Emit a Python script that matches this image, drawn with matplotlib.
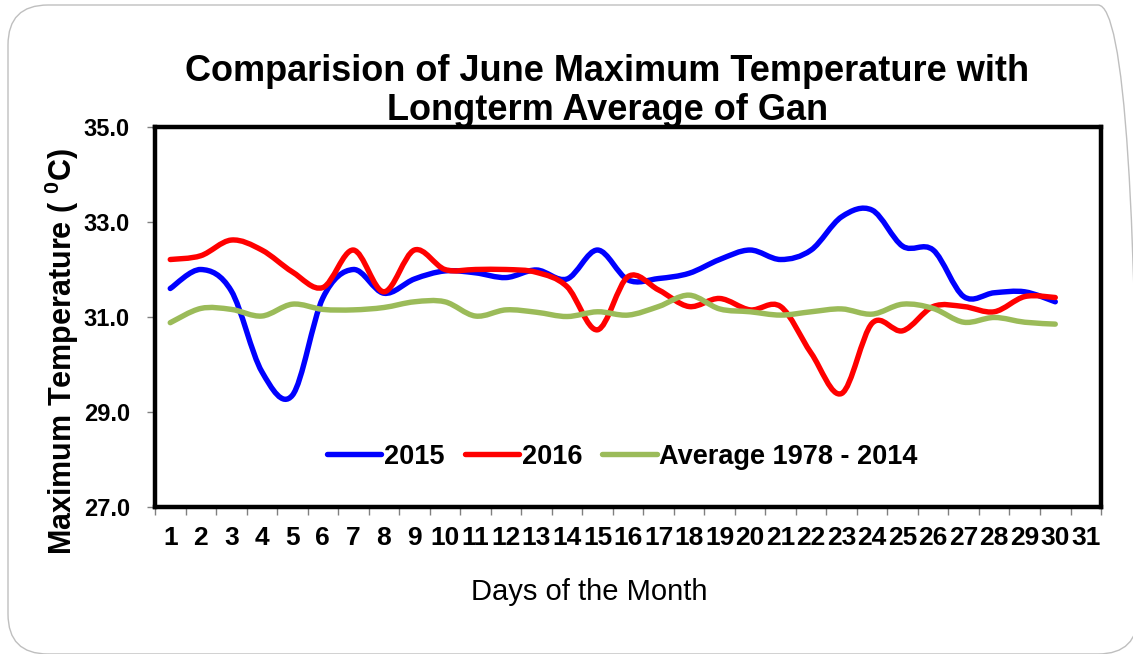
import numpy as np
import matplotlib
matplotlib.use("Agg")
import matplotlib.pyplot as plt
from matplotlib.path import Path
from matplotlib.patches import PathPatch, FancyBboxPatch
from matplotlib.lines import Line2D

plt.rcParams['font.family'] = ['Liberation Sans', 'DejaVu Sans']
plt.rcParams['mathtext.default'] = 'regular'

days = list(range(1, 31))
tick_labels = [str(d) for d in range(1, 32)]

t2015 = [31.60, 32.00, 31.55, 29.85, 29.35, 31.40, 32.00, 31.50, 31.80, 31.97,
         31.93, 31.83, 31.99, 31.80, 32.41, 31.78, 31.81, 31.92, 32.21, 32.41,
         32.21, 32.41, 33.11, 33.25, 32.49, 32.41, 31.43, 31.51, 31.53, 31.32]

t2016 = [32.21, 32.29, 32.62, 32.41, 31.95, 31.62, 32.41, 31.53, 32.41, 32.00,
         32.00, 32.00, 31.94, 31.64, 30.73, 31.85, 31.57, 31.22, 31.39, 31.15,
         31.22, 30.24, 29.39, 30.87, 30.71, 31.22, 31.22, 31.11, 31.43, 31.41]

t_avg = [30.88, 31.18, 31.16, 31.02, 31.27, 31.16, 31.15, 31.20, 31.32, 31.32,
         31.02, 31.15, 31.10, 31.01, 31.11, 31.04, 31.22, 31.46, 31.17, 31.11,
         31.04, 31.11, 31.17, 31.06, 31.27, 31.18, 30.89, 30.99, 30.89, 30.85]

series = [("2015", t2015, "#0000FF"),
          ("2016", t2016, "#FF0000"),
          ("Average 1978 - 2014", t_avg, "#9BBB59")]


def smooth_path(x, y):
    # Excel-style smoothed line: Catmull-Rom segments as cubic Bezier
    pts = np.column_stack([x, y]).astype(float)
    ext = np.vstack([pts[0], pts, pts[-1]])
    verts = [tuple(pts[0])]
    codes = [Path.MOVETO]
    for i in range(1, len(ext) - 2):
        p0, p1, p2, p3 = ext[i - 1], ext[i], ext[i + 1], ext[i + 2]
        c1 = p1 + (p2 - p0) / 6.0
        c2 = p2 - (p3 - p1) / 6.0
        verts += [tuple(c1), tuple(c2), tuple(p2)]
        codes += [Path.CURVE4] * 3
    return Path(verts, codes)


fig = plt.figure(figsize=(11.33, 6.54), dpi=100)
ax = fig.add_axes([0.1368, 0.2248, 0.835, 0.581])

# slide frame
frame = FancyBboxPatch((0.08, 0.0), 11.30, 6.49,
                       boxstyle="round,pad=0,rounding_size=0.4",
                       transform=fig.dpi_scale_trans, fill=False,
                       edgecolor="#BFBFBF", lw=1.0, clip_on=False)
fig.patches.append(frame)

handles = []
for name, vals, col in series:
    patch = PathPatch(smooth_path(days, vals), facecolor="none", edgecolor=col,
                      lw=3.9, capstyle="round", joinstyle="round")
    ax.add_patch(patch)
    handles.append(Line2D([], [], color=col, lw=3.9, solid_capstyle="round"))

ax.set_xlim(0.5, 31.5)
ax.set_ylim(27, 35)

ax.set_xticks(range(1, 32))
ax.set_xticklabels(tick_labels, fontsize=19, fontweight="bold")
ax.set_xticks(np.arange(0.5, 32, 1), minor=True)
ax.tick_params(axis="x", which="major", length=0, pad=14)
ax.tick_params(axis="x", which="minor", length=6, width=1, color="#808080",
               direction="out")

ax.set_yticks([27, 29, 31, 33, 35])
ax.set_yticklabels(["27.0", "29.0", "31.0", "33.0", "35.0"],
                   fontsize=17, fontweight="bold")
ax.tick_params(axis="y", length=6, width=1, color="#808080",
               direction="out", pad=12)

for sp in ax.spines.values():
    sp.set_linewidth(3.2)
    sp.set_color("black")

ax.legend(handles, [s[0] for s in series], loc="center",
          bbox_to_anchor=(0.494, 0.132), ncol=3, frameon=False,
          prop={"size": 19.5, "weight": "bold"}, handlelength=2.0,
          handletextpad=0.1, columnspacing=0.75)

fig.text(0.536, 0.891, "Comparision of June Maximum Temperature with",
         ha="center", va="center", fontsize=26, fontweight="bold")
fig.text(0.536, 0.831, "Longterm Average of Gan",
         ha="center", va="center", fontsize=26, fontweight="bold")

fig.text(0.0547, 0.4618, "Maximum Temperature ( $^{0}$C)", rotation=90,
         ha="center", va="center", fontsize=22, fontweight="bold")
fig.text(0.52, 0.0948, "Days of the Month", ha="center", va="center",
         fontsize=21)

fig.savefig("out.png", dpi=100)
